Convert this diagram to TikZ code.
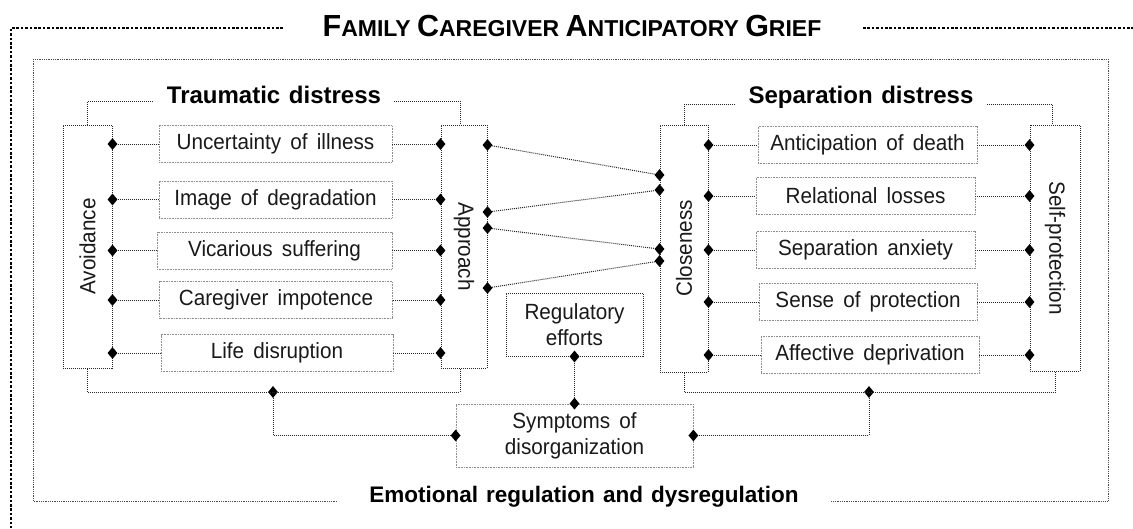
\documentclass[tikz,border=0pt]{standalone}
\usepackage{fontspec}
\setmainfont{Liberation Sans}
\newfontfamily\labelfont{Liberation Sans}[FakeStretch=0.94, WordSpace=1.6]
\newfontfamily\headfont{Liberation Sans}[WordSpace=1.3]
\usetikzlibrary{shapes.geometric}
% fake small caps for the title
\newcommand\BigCap[1]{{\fontsize{30.5}{32}\selectfont #1}}

\begin{document}
\begin{tikzpicture}[x=1pt,y=-1pt,
  outerframe/.style={line width=2.6pt, dash pattern=on 2.6pt off 1.8pt, black},
  innerframe/.style={line width=0.9pt, dash pattern=on 0.9pt off 0.9pt, black!70},
  itembox/.style={draw=black!45, dash pattern=on 0.8pt off 0.8pt, line width=0.8pt,
    font=\labelfont\fontsize{22}{25}\selectfont, text=black!90, inner sep=0pt, minimum height=37pt},
  pillar/.style={draw=black!85, dash pattern=on 1pt off 1pt, line width=1pt, inner sep=0pt},
  pillartext/.style={font=\labelfont\fontsize{22}{25}\selectfont, text=black!90},
  conn/.style={draw=black!85, dash pattern=on 1pt off 1pt, line width=1pt},
  dia/.style={diamond, fill=black, inner sep=0pt, minimum width=10pt, minimum height=12pt},
  heading/.style={fill=white, font=\headfont\bfseries\fontsize{24}{27}\selectfont, inner xsep=13pt, inner ysep=6pt},
]
\useasboundingbox (0,0) rectangle (1133,528);

% outer frame and title
\node[font=\bfseries\fontsize{23}{26}\selectfont] (title) at (572,26)
  {\BigCap{F}AMILY \BigCap{C}AREGIVER \BigCap{A}NTICIPATORY \BigCap{G}RIEF};
\draw[outerframe] (283,28) -- (11,28) -- (11,528);
\draw[outerframe] (863,28) -- (1133,28);

% inner frame with its label
\draw[innerframe] (33,59) rectangle (1108,501);
\node[fill=white, minimum width=494pt, minimum height=30pt,
  font=\headfont\bfseries\fontsize{22.5}{26}\selectfont] (emo) at (584,497)
  {Emotional regulation and dysregulation};

% pillars
\node[pillar, minimum width=49pt, minimum height=243pt] (av) at (87.5,246.5) {};
\node[pillar, minimum width=46pt, minimum height=243pt] (ap) at (464,246.5) {};
\node[pillar, minimum width=48pt, minimum height=247pt] (cl) at (684,248.5) {};
\node[pillar, minimum width=50pt, minimum height=246pt] (sp) at (1055,248) {};
\node[pillartext, rotate=90] at (av) {Avoidance};
\node[pillartext, rotate=-90] at (ap) {Approach};
\node[pillartext, rotate=90] at (cl) {Closeness};
\node[pillartext, rotate=-90] at (sp) {Self-protection};

% headings
\node[heading] (trd) at (274,95) {Traumatic distress};
\node[heading] (sed) at (861,97) {Separation distress};
\draw[conn] (av.north) |- ([yshift=-6pt]trd.west);
\draw[conn] ([yshift=-6pt]trd.east) -| ([xshift=-4pt]ap.north);
\draw[conn] (cl.north) |- ([yshift=-7pt]sed.west);
\draw[conn] ([yshift=-7pt]sed.east) -| ([xshift=-3pt]sp.north);

% traumatic distress items
\node[itembox, minimum width=233pt] (l1) at (275.5,144) {Uncertainty of illness};
\node[itembox, minimum width=233pt] (l2) at (275.5,199.5) {Image of degradation};
\node[itembox, minimum width=235pt] (l3) at (274.5,250.5) {Vicarious suffering};
\node[itembox, minimum width=233pt] (l4) at (276,300) {Caregiver impotence};
\node[itembox, minimum width=232pt] (l5) at (277,353) {Life disruption};

% separation distress items
\node[itembox, minimum width=219pt] (r1) at (867.5,145) {Anticipation of death};
\node[itembox, minimum width=219pt] (r2) at (865.5,196) {Relational losses};
\node[itembox, minimum width=219pt] (r3) at (865.5,250) {Separation anxiety};
\node[itembox, minimum width=218pt] (r4) at (868,302) {Sense of protection};
\node[itembox, minimum width=218pt] (r5) at (870,355) {Affective deprivation};

\foreach \n/\y in {1/144,2/199.5,3/250.5,4/300,5/353}{
  \node[dia] (avd\n) at (av.east |- 0,\y) {};
  \node[dia] (apd\n) at (ap.west |- 0,\y) {};
  \draw[conn] (avd\n) -- (l\n.west);
  \draw[conn] (l\n.east) -- (apd\n);
}
\foreach \n/\y in {1/145,2/196,3/250,4/302,5/355}{
  \node[dia] (cld\n) at (cl.east |- 0,\y) {};
  \node[dia] (spd\n) at (sp.west |- 0,\y) {};
  \draw[conn] (cld\n) -- (r\n.west);
  \draw[conn] (r\n.east) -- (spd\n);
}

% links between approach and closeness
\foreach \n/\ya/\yc in {1/145/175,2/212/190,3/228/249,4/288/261}{
  \node[dia] (apx\n) at (ap.east |- 0,\ya) {};
  \node[dia] (clx\n) at (cl.west |- 0,\yc) {};
  \draw[conn] (apx\n) -- (clx\n);
}

% regulation nodes
\node[pillar, minimum width=137pt, minimum height=63pt, align=center,
  font=\labelfont\fontsize{22}{26}\selectfont, text=black!90] (reg) at (574.5,324.5) {Regulatory\\efforts};
\node[itembox, minimum width=237pt, minimum height=63pt, align=center,
  font=\labelfont\fontsize{22}{26}\selectfont] (sym) at (574.5,435.5) {Symptoms of\\disorganization};
\node[dia] (regd) at (reg.south) {};
\node[dia] (symt) at (sym.north) {};
\node[dia] (syml) at (sym.west) {};
\node[dia] (symr) at (sym.east) {};
\draw[conn] (regd) -- (symt);

% bottom joins
\coordinate (jl) at (av.south |- 0,392);
\coordinate (jr) at (sp.south |- 0,392);
\node[dia] (dl) at (273,392) {};
\node[dia] (dr) at (869,392) {};
\draw[conn] (av.south) -- (jl) -| ([xshift=-4pt]ap.south);
\draw[conn] (cl.south) |- (jr) -- (sp.south);
\draw[conn] (dl) |- (syml);
\draw[conn] (dr) |- (symr);
\end{tikzpicture}
\end{document}
